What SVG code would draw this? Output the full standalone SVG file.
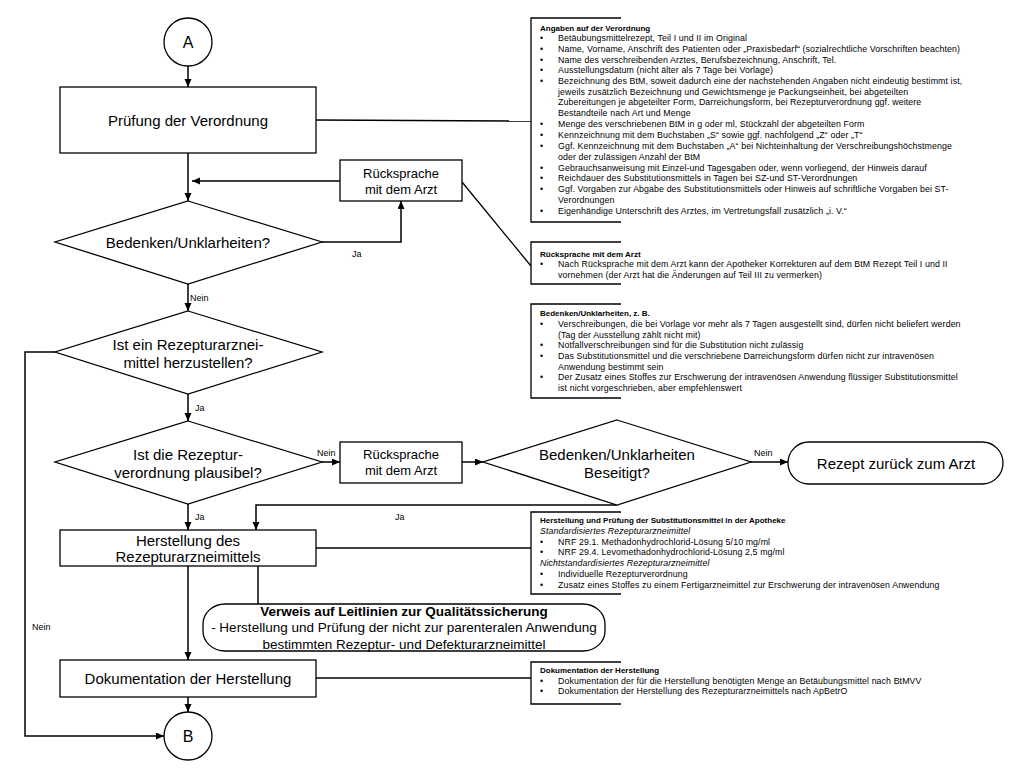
<svg xmlns="http://www.w3.org/2000/svg" width="1024" height="768" viewBox="0 0 1024 768">
<defs>
<marker id="ah" markerUnits="userSpaceOnUse" markerWidth="9" markerHeight="8" refX="8" refY="3.5" orient="auto"><path d="M0,0 L8,3.5 L0,7 z" fill="#000"/></marker>
<style>
.shape{fill:#fff;stroke:#000;stroke-width:1.3}
.ln{fill:none;stroke:#000;stroke-width:1.5}
.arr{fill:none;stroke:#000;stroke-width:1.5;marker-end:url(#ah)}
.br{fill:none;stroke:#000;stroke-width:1.3}
text{font-family:"Liberation Sans",Arial,sans-serif;fill:#000}
.big{font-size:15px;text-anchor:middle}
.mid{font-size:13px;text-anchor:middle}
.lbl{font-size:9px}
.an{font-size:8.8px;letter-spacing:0.1px}
.anb{font-size:8px;font-weight:bold}
.ani{font-size:8.8px;font-style:italic;letter-spacing:0.1px}
.vw{font-size:13.5px;text-anchor:middle}
</style>
</defs>
<rect width="1024" height="768" fill="#fff"/>

<g id="connectors">
<line class="arr" x1="188" y1="66" x2="188" y2="87"/>
<line class="arr" x1="188" y1="153" x2="188" y2="201"/>
<line class="arr" x1="340" y1="181" x2="192" y2="181"/>
<polyline class="arr" points="322,242 401,242 401,201"/>
<line class="arr" x1="188" y1="284" x2="188" y2="311"/>
<line class="arr" x1="188" y1="394" x2="188" y2="421"/>
<polyline class="arr" points="55,352 25,352 25,736 164,736"/>
<line class="arr" x1="322" y1="462" x2="340" y2="462"/>
<line class="arr" x1="462" y1="462" x2="483" y2="462"/>
<line class="arr" x1="751" y1="462" x2="788" y2="462"/>
<polyline class="arr" points="617,505 256,505 256,530"/>
<line class="arr" x1="188" y1="504" x2="188" y2="530"/>
<line class="arr" x1="188" y1="566" x2="188" y2="660"/>
<line class="ln" x1="258" y1="566" x2="258" y2="605"/>
<line class="arr" x1="188" y1="697" x2="188" y2="712"/>
<line class="ln" x1="316" y1="120" x2="531" y2="121"/>
<line class="br" x1="462" y1="182" x2="531" y2="266"/>
<line class="ln" x1="316" y1="548" x2="531" y2="548"/>
<line class="ln" x1="316" y1="678" x2="531" y2="678"/>
<text class="lbl" x="352" y="257">Ja</text>
<text class="lbl" x="190" y="301">Nein</text>
<text class="lbl" x="195" y="411">Ja</text>
<text class="lbl" x="317" y="456">Nein</text>
<text class="lbl" x="754" y="456">Nein</text>
<text class="lbl" x="195" y="520">Ja</text>
<text class="lbl" x="395" y="520">Ja</text>
<text class="lbl" x="32" y="630">Nein</text>
</g>

<g id="startA">
<circle class="shape" cx="188" cy="42" r="24"/>
<text class="big" x="188" y="48" style="font-size:16px">A</text>
</g>

<g id="pruefung">
<rect class="shape" x="60" y="87" width="256" height="66"/>
<text class="big" x="188" y="126">Prüfung der Verordnung</text>
</g>

<g id="rueck1">
<rect class="shape" x="340" y="160" width="122" height="41"/>
<text class="mid" x="401" y="178">Rücksprache</text>
<text class="mid" x="401" y="194">mit dem Arzt</text>
</g>

<g id="d1">
<polygon class="shape" points="188,201 322,242 188,284 55,242"/>
<text class="big" x="188" y="248">Bedenken/Unklarheiten?</text>
</g>

<g id="d2">
<polygon class="shape" points="188,311 322,352 188,394 55,352"/>
<text class="big" x="188" y="350">Ist ein Rezepturarznei-</text>
<text class="big" x="188" y="368">mittel herzustellen?</text>
</g>

<g id="d3">
<polygon class="shape" points="188,421 322,462 188,504 55,462"/>
<text class="big" x="188" y="460">Ist die Rezeptur-</text>
<text class="big" x="188" y="478">verordnung plausibel?</text>
</g>

<g id="rueck2">
<rect class="shape" x="340" y="442" width="122" height="41"/>
<text class="mid" x="401" y="459">Rücksprache</text>
<text class="mid" x="401" y="475">mit dem Arzt</text>
</g>

<g id="d4">
<polygon class="shape" points="617,420 751,462 617,505 483,462"/>
<text class="big" x="617" y="460">Bedenken/Unklarheiten</text>
<text class="big" x="617" y="478">Beseitigt?</text>
</g>

<g id="rezeptzurueck">
<rect class="shape" x="788" y="442" width="215" height="42" rx="21" ry="21"/>
<text class="big" x="896" y="469">Rezept zurück zum Arzt</text>
</g>

<g id="herstellung">
<rect class="shape" x="60" y="530" width="256" height="36"/>
<text class="big" x="188" y="546">Herstellung des</text>
<text class="big" x="188" y="562">Rezepturarzneimittels</text>
</g>

<g id="verweis">
<rect class="shape" x="203" y="604" width="402" height="47" rx="22" ry="20"/>
<text class="vw" x="404" y="616" font-weight="bold">Verweis auf Leitlinien zur Qualitätssicherung</text>
<text class="vw" x="404" y="632">- Herstellung und Prüfung der nicht zur parenteralen Anwendung</text>
<text class="vw" x="404" y="649">bestimmten Rezeptur- und Defekturarzneimittel</text>
</g>

<g id="dokumentation">
<rect class="shape" x="60" y="660" width="256" height="37"/>
<text class="big" x="188" y="684">Dokumentation der Herstellung</text>
</g>

<g id="endB">
<circle class="shape" cx="188" cy="736" r="24"/>
<text class="big" x="188" y="742" style="font-size:16px">B</text>
</g>

<g id="note1">
<polyline class="br" points="621,18 531,18 531,222 621,222"/>
<text class="anb" x="540" y="31">Angaben auf der Verordnung</text>
<g class="an">
<text x="540" y="41">•</text><text x="558" y="41">Betäubungsmittelrezept, Teil I und II im Original</text>
<text x="540" y="52">•</text><text x="558" y="52">Name, Vorname, Anschrift des Patienten oder „Praxisbedarf“ (sozialrechtliche Vorschriften beachten)</text>
<text x="540" y="63">•</text><text x="558" y="63">Name des verschreibenden Arztes, Berufsbezeichnung, Anschrift, Tel.</text>
<text x="540" y="73">•</text><text x="558" y="73">Ausstellungsdatum (nicht älter als 7 Tage bei Vorlage)</text>
<text x="540" y="84">•</text><text x="558" y="84">Bezeichnung des BtM, soweit dadurch eine der nachstehenden Angaben nicht eindeutig bestimmt ist,</text>
<text x="558" y="95">jeweils zusätzlich Bezeichnung und Gewichtsmenge je Packungseinheit, bei abgeteilten</text>
<text x="558" y="105">Zubereitungen je abgeteilter Form, Darreichungsform, bei Rezepturverordnung ggf. weitere</text>
<text x="558" y="116">Bestandteile nach Art und Menge</text>
<text x="540" y="127">•</text><text x="558" y="127">Menge des verschriebenen BtM in g oder ml, Stückzahl der abgeteilten Form</text>
<text x="540" y="138">•</text><text x="558" y="138">Kennzeichnung mit dem Buchstaben „S“ sowie ggf. nachfolgend „Z“ oder „T“</text>
<text x="540" y="149">•</text><text x="558" y="149">Ggf. Kennzeichnung mit dem Buchstaben „A“ bei Nichteinhaltung der Verschreibungshöchstmenge</text>
<text x="558" y="160">oder der zulässigen Anzahl der BtM</text>
<text x="540" y="171">•</text><text x="558" y="171">Gebrauchsanweisung mit Einzel-und Tagesgaben oder, wenn vorliegend, der Hinweis darauf</text>
<text x="540" y="181">•</text><text x="558" y="181">Reichdauer des Substitutionsmittels in Tagen bei SZ-und ST-Verordnungen</text>
<text x="540" y="192">•</text><text x="558" y="192">Ggf. Vorgaben zur Abgabe des Substitutionsmittels oder Hinweis auf schriftliche Vorgaben bei ST-</text>
<text x="558" y="203">Verordnungen</text>
<text x="540" y="214">•</text><text x="558" y="214">Eigenhändige Unterschrift des Arztes, im Vertretungsfall zusätzlich „i. V.“</text>
</g>
</g>

<g id="note2">
<polyline class="br" points="621,242 531,242 531,284 621,284"/>
<text class="anb" x="540" y="257">Rücksprache mit dem Arzt</text>
<g class="an">
<text x="540" y="267">•</text><text x="558" y="267">Nach Rücksprache mit dem Arzt kann der Apotheker Korrekturen auf dem BtM Rezept Teil I und II</text>
<text x="558" y="278">vornehmen (der Arzt hat die Änderungen auf Teil III zu vermerken)</text>
</g>
</g>

<g id="note3">
<polyline class="br" points="621,304 531,304 531,398 621,398"/>
<text class="anb" x="540" y="316">Bedenken/Unklarheiten, z. B.</text>
<g class="an">
<text x="540" y="327">•</text><text x="558" y="327">Verschreibungen, die bei Vorlage vor mehr als 7 Tagen ausgestellt sind, dürfen nicht beliefert werden</text>
<text x="558" y="338">(Tag der Ausstellung zählt nicht mit)</text>
<text x="540" y="348">•</text><text x="558" y="348">Notfallverschreibungen sind für die Substitution nicht zulässig</text>
<text x="540" y="359">•</text><text x="558" y="359">Das Substitutionsmittel und die verschriebene Darreichungsform dürfen nicht zur intravenösen</text>
<text x="558" y="370">Anwendung bestimmt sein</text>
<text x="540" y="380">•</text><text x="558" y="380">Der Zusatz eines Stoffes zur Erschwerung der intravenösen Anwendung flüssiger Substitutionsmittel</text>
<text x="558" y="391">ist nicht vorgeschrieben, aber empfehlenswert</text>
</g>
</g>

<g id="note4">
<polyline class="br" points="621,512 531,512 531,594 621,594"/>
<text class="anb" x="540" y="523">Herstellung und Prüfung der Substitutionsmittel in der Apotheke</text>
<text class="ani" x="540" y="534">Standardisiertes Rezepturarzneimittel</text>
<g class="an">
<text x="540" y="545">•</text><text x="558" y="545">NRF 29.1. Methadonhydrochlorid-Lösung 5/10 mg/ml</text>
<text x="540" y="555">•</text><text x="558" y="555">NRF 29.4. Levomethadonhydrochlorid-Lösung 2,5 mg/ml</text>
</g>
<text class="ani" x="540" y="566">Nichtstandardisiertes Rezepturarzneimittel</text>
<g class="an">
<text x="540" y="577">•</text><text x="558" y="577">Individuelle Rezepturverordnung</text>
<text x="540" y="588">•</text><text x="558" y="588">Zusatz eines Stoffes zu einem Fertigarzneimittel zur Erschwerung der intravenösen Anwendung</text>
</g>
</g>

<g id="note5">
<polyline class="br" points="621,662 531,662 531,704 621,704"/>
<text class="anb" x="540" y="673">Dokumentation der Herstellung</text>
<g class="an">
<text x="540" y="684">•</text><text x="558" y="684">Dokumentation der für die Herstellung benötigten Menge an Betäubungsmittel nach BtMVV</text>
<text x="540" y="694">•</text><text x="558" y="694">Dokumentation der Herstellung des Rezepturarzneimittels nach ApBetrO</text>
</g>
</g>
</svg>
